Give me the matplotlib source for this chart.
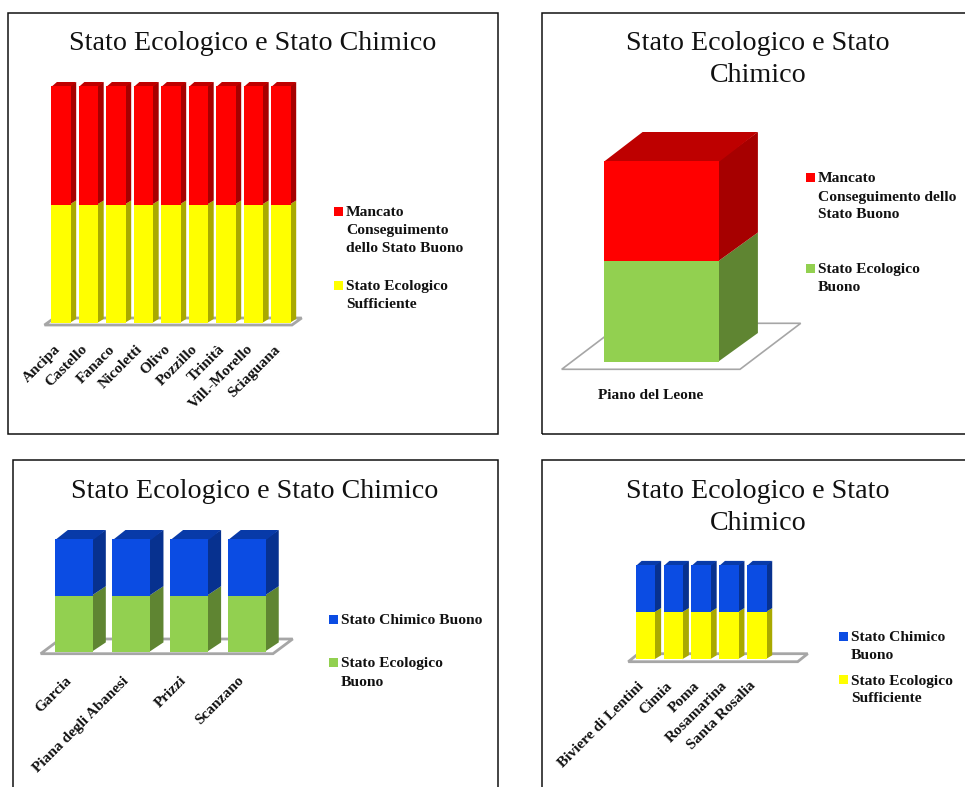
import matplotlib
matplotlib.use("Agg")
import matplotlib.pyplot as plt
from matplotlib.patches import Polygon, Rectangle

W, H = 965, 787

titolo_1 = "Stato Ecologico e Stato Chimico"
titolo_2 = "Stato Ecologico e Stato\nChimico"

laghi_a = ["Ancipa", "Castello", "Fanaco", "Nicoletti", "Olivo", "Pozzillo", "Trinità", "Vill.-Morello", "Sciaguana"]
eco_a = [1, 1, 1, 1, 1, 1, 1, 1, 1]
chim_a = [1, 1, 1, 1, 1, 1, 1, 1, 1]

laghi_b = ["Piano del Leone"]
eco_b = [1]
chim_b = [1]

laghi_c = ["Garcia", "Piana degli Abanesi", "Prizzi", "Scanzano"]
eco_c = [1, 1, 1, 1]
chim_c = [1, 1, 1, 1]

laghi_d = ["Biviere di Lentini", "Cimia", "Poma", "Rosamarina", "Santa Rosalia"]
eco_d = [1, 1, 1, 1, 1]
chim_d = [1, 1, 1, 1, 1]

# front, top, side
ROSSO = ("#FF0000", "#BE0000", "#A60000")
GIALLO = ("#FFFF00", "#CCCC00", "#A9A900")
VERDE = ("#92D050", "#74A640", "#5F8532")
BLU = ("#0B4CE3", "#083AA8", "#07318F")

MANCATO = "Mancato\nConseguimento\ndello Stato Buono"
MANCATO_2 = "Mancato\nConseguimento dello\nStato Buono"
SUFF = "Stato Ecologico\nSufficiente"
BUONO = "Stato Ecologico\nBuono"
CHIM = "Stato Chimico Buono"
CHIM_2 = "Stato Chimico\nBuono"

plt.rcParams["font.family"] = "Liberation Serif"

TITLE_PT = 20.2
LEG_PT = 11.15
LAB_PT = 11.1

fig = plt.figure(figsize=(W / 100, H / 100), dpi=100, facecolor="white")


def fx(x):
    return x / W


def fy(y):
    return 1 - y / H


def cornice(x0, y0, x1, y1):
    fig.add_artist(Rectangle((fx(x0), fy(y1)), fx(x1 - x0), (y1 - y0) / H, fill=False,
                             edgecolor="#111111", linewidth=1.1, transform=fig.transFigure))


def titolo(testo, xc, y):
    for k, riga in enumerate(testo.split("\n")):
        fig.text(fx(xc), fy(y + 32 * k), riga, ha="center", va="baseline", fontsize=TITLE_PT, color="#111111")


def voce(x_sw, y_sw, x_txt, testo, colore):
    fig.add_artist(Rectangle((fx(x_sw), fy(y_sw + 9)), fx(9), 9 / H, facecolor=colore, edgecolor="none",
                             transform=fig.transFigure))
    for k, riga in enumerate(testo.split("\n")):
        fig.text(fx(x_txt), fy(y_sw + 9.5 + 18 * k), riga, ha="left", va="baseline", fontsize=LEG_PT,
                 fontweight="bold", color="#111111")


def grafico(nomi, basso, alto, col_basso, col_alto, x0, x1, y_floor, unit, slots, bar_px, sx, lift,
            dx, dy, fdx, fdy, pad, ruota=45, floor_lw=2.0):
    top_units = 2.3
    ax = fig.add_axes([fx(x0), fy(y_floor), fx(x1 - x0), top_units * unit / H])
    ax.set_xlim(-0.5, slots - 0.5)
    ax.set_ylim(0, top_units)
    ax.patch.set_alpha(0)
    for s in ax.spines.values():
        s.set_visible(False)
    ax.set_yticks([])

    slot_px = (x1 - x0) / slots
    ux = 1 / slot_px
    uy = 1 / unit
    larg = bar_px * ux
    ddx = dx * ux
    ddy = dy * uy
    off = sx * ux
    base = lift * uy

    # floor of the pseudo-3D plot area
    ax.add_patch(Polygon([(-0.5, 0), (slots - 0.5, 0), (slots - 0.5 + fdx * ux, fdy * uy),
                          (-0.5 + fdx * ux, fdy * uy)], closed=True, facecolor="white",
                         edgecolor="#A6A6A6", linewidth=floor_lw, clip_on=False, zorder=1))

    for i in range(len(nomi)):
        xl = i + off - larg / 2
        xr = xl + larg
        ym = base + basso[i]
        yt = ym + alto[i]
        # faces start 1px under the front so no light seam shows along the edge
        xs = xr - ux
        ax.add_patch(Polygon([(xs, base), (xr + ddx, base + ddy), (xr + ddx, ym + ddy), (xs, ym)],
                             closed=True, facecolor=col_basso[2], edgecolor="none", zorder=2, clip_on=False))
        ax.add_patch(Polygon([(xs, ym), (xr + ddx, ym + ddy), (xr + ddx, yt + ddy), (xs, yt)],
                             closed=True, facecolor=col_alto[2], edgecolor="none", zorder=2, clip_on=False))
        ax.add_patch(Polygon([(xl, yt - uy), (xr, yt - uy), (xr + ddx, yt + ddy), (xl + ddx, yt + ddy)],
                             closed=True, facecolor=col_alto[1], edgecolor="none", zorder=2, clip_on=False))

    pos = [i + off for i in range(len(nomi))]
    ax.bar(pos, basso, width=larg, bottom=base, color=col_basso[0], zorder=3)
    ax.bar(pos, alto, width=larg, bottom=[base + v for v in basso], color=col_alto[0], zorder=3)

    ax.set_xticks(range(len(nomi)))
    if ruota:
        ax.set_xticklabels(nomi, rotation=ruota, ha="right", va="center", rotation_mode="anchor",
                           fontsize=LAB_PT, fontweight="bold", color="#111111")
    else:
        ax.set_xticklabels(nomi, fontsize=LAB_PT, fontweight="bold", color="#111111")
    ax.tick_params(axis="x", length=0, pad=pad)
    return ax


# top left
cornice(7.5, 12.5, 498, 433.5)
titolo(titolo_1, 252.5, 50)
grafico(laghi_a, eco_a, chim_a, GIALLO, ROSSO, 44.5, 292, 325, 118.5, 9, 19.3, 2.6, 2, 5.7, 4, 9.7, 7, 16)
voce(334, 206.5, 346, MANCATO, ROSSO[0])
voce(334, 280.5, 346, SUFF, GIALLO[0])

# top right
cornice(542, 12.5, 980, 433.5)
titolo(titolo_2, 758, 50)
grafico(laghi_b, eco_b, chim_b, VERDE, ROSSO, 561.7, 740, 369.3, 100.5, 1, 115.3, 10.7, 7.6, 38.7, 28.7,
        60.7, 46, 14, ruota=0, floor_lw=1.2)
voce(806.3, 173, 817.7, MANCATO_2, ROSSO[0])
voce(806.3, 263.5, 817.7, BUONO, VERDE[0])

# bottom left
cornice(13, 460, 498, 800)
titolo(titolo_1, 255, 497.7)
grafico(laghi_c, eco_c, chim_c, VERDE, BLU, 40.7, 273, 653.7, 56.2, 4.03, 38, 4.3, 2, 13, 9.3, 19.7, 14.7, 18)
voce(329, 615, 340.7, CHIM, BLU[0])
voce(329, 658, 340.7, BUONO, VERDE[0])

# bottom right
cornice(542, 460, 980, 800)
titolo(titolo_2, 758, 497.7)
grafico(laghi_d, eco_d, chim_d, GIALLO, BLU, 628.3, 797.7, 661.7, 47.2, 6.1, 19.5, 3.5, 2.4, 5.7, 4, 10, 8, 16)
voce(839, 631.5, 851, CHIM_2, BLU[0])
voce(839, 675, 851, SUFF, GIALLO[0])

fig.savefig("out.png", dpi=100)
